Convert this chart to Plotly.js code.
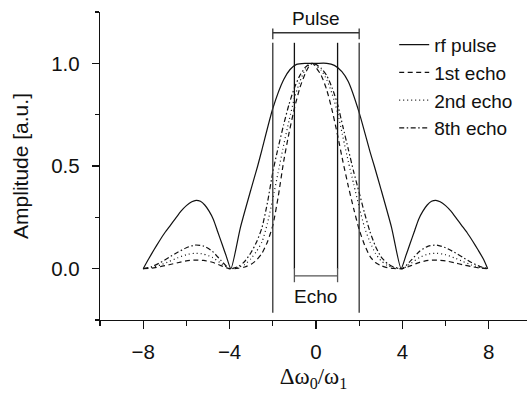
<!DOCTYPE html>
<html>
<head>
<meta charset="utf-8">
<script src="https://cdn.plot.ly/plotly-3.0.1.min.js"></script>
<style>html,body{margin:0;padding:0;background:#fff;}#chart{width:527px;height:397px;}</style>
</head>
<body>
<div id="chart"></div>
<script>
// ---- data ----
const rfX = [-8, -7.75, -7.5, -7.25, -7, -6.75, -6.5, -6.25, -6, -5.75, -5.55, -5.35, -5.15, -4.95, -4.75, -4.55, -4.35, -4.15, -3.94,
             -3.5, -3, -2.7, -2.5, -2, -1.5, -1.2, -0.9, -0.5, 0, 0.5, 0.85, 1.2, 1.5, 2, 2.5, 2.7, 3, 3.5,
             3.94, 4.15, 4.35, 4.55, 4.75, 4.95, 5.15, 5.35, 5.55, 5.75, 6, 6.25, 6.5, 6.75, 7, 7.25, 7.5, 7.75, 7.95];
const rfY = [0, 0.047, 0.092, 0.135, 0.175, 0.21, 0.245, 0.28, 0.307, 0.326, 0.333, 0.328, 0.31, 0.28, 0.24, 0.18, 0.12, 0.06, 0,
             0.2, 0.39, 0.5, 0.58, 0.78, 0.92, 0.97, 0.995, 1.0, 1.0, 1.0, 0.99, 0.96, 0.91, 0.76, 0.57, 0.5, 0.39, 0.2,
             0, 0.06, 0.12, 0.18, 0.24, 0.28, 0.31, 0.328, 0.333, 0.326, 0.307, 0.28, 0.245, 0.21, 0.175, 0.135, 0.092, 0.047, 0];

const echoX = [-8, -7.6, -7.2, -6.8, -6.4, -6, -5.6, -5.2, -4.8, -4.4, -4, -3.6, -3.3, -3, -2.75, -2.5, -2.25, -2, -1.75, -1.5, -1.25, -1, -0.75, -0.5, -0.3, -0.15, 0,
               0.25, 0.5, 0.75, 1, 1.25, 1.5, 1.75, 2, 2.25, 2.5, 2.75, 3, 3.3, 3.6, 4, 4.4, 4.8, 5.2, 5.6, 6, 6.4, 6.8, 7.2, 7.6, 8];
const echo1Y = [0, 0.003, 0.01, 0.019, 0.029, 0.038, 0.042, 0.04, 0.031, 0.015, 0, 0.002, 0.008, 0.022, 0.042, 0.075, 0.13, 0.21, 0.35, 0.52, 0.66, 0.78, 0.88, 0.95, 0.99, 1.0, 0.98,
                0.94, 0.87, 0.77, 0.65, 0.52, 0.4, 0.29, 0.19, 0.115, 0.06, 0.03, 0.015, 0.005, 0.001, 0, 0.015, 0.031, 0.04, 0.042, 0.038, 0.029, 0.019, 0.01, 0.003, 0];
const echo2Y = [0, 0.006, 0.018, 0.035, 0.053, 0.068, 0.075, 0.071, 0.055, 0.026, 0, 0.006, 0.02, 0.05, 0.085, 0.13, 0.22, 0.34, 0.47, 0.6, 0.72, 0.83, 0.91, 0.97, 0.995, 1.0, 0.99,
                0.965, 0.92, 0.85, 0.76, 0.64, 0.52, 0.41, 0.3, 0.2, 0.13, 0.075, 0.04, 0.016, 0.005, 0, 0.026, 0.055, 0.071, 0.075, 0.068, 0.053, 0.035, 0.018, 0.006, 0];
const echo8Y = [0, 0.01, 0.03, 0.055, 0.08, 0.102, 0.115, 0.11, 0.085, 0.04, 0, 0.01, 0.035, 0.08, 0.13, 0.2, 0.32, 0.47, 0.59, 0.7, 0.8, 0.88, 0.94, 0.98, 0.997, 1.0, 0.995,
                0.975, 0.94, 0.88, 0.8, 0.69, 0.58, 0.47, 0.37, 0.27, 0.18, 0.11, 0.06, 0.025, 0.008, 0, 0.04, 0.085, 0.11, 0.115, 0.102, 0.08, 0.055, 0.03, 0.01, 0];

const seriesNames = ['rf pulse', '1st echo', '2nd echo', '8th echo'];
const xTickVals = [-8, -4, 0, 4, 8];
const xMinorVals = [-10, -6, -2, 2, 6];
const yTickVals = [0, 0.5, 1.0];
const yTickText = ['0.0', '0.5', '1.0'];
const yMinorVals = [-0.25, 0.25, 0.75, 1.25];
const pulseHalfWidth = 2;
const echoHalfWidth = 1;
const labels = ['Pulse', 'Echo'];

// ---- styles ----
const lw = 1.2;
const dashes = ['solid', '5px,3.5px', '1px,3px', '5px,2.5px,1.5px,2.5px'];
const ys = [rfY, echo1Y, echo2Y, echo8Y];
const xs = [rfX, echoX, echoX, echoX];

const traces = seriesNames.map((n, i) => ({
  x: xs[i], y: ys[i], name: n, type: 'scatter', mode: 'lines',
  line: {color: '#111', width: lw, dash: dashes[i], shape: 'spline', smoothing: 0.6}
}));

const sans = 'Liberation Sans, Arial, sans-serif';
const markColor = '#333';
function seg(x0, y0, x1, y1, c) {
  return {type: 'line', xref: 'x', yref: 'y', x0: x0, y0: y0, x1: x1, y1: y1,
          line: {color: c || markColor, width: 1.3}};
}
const P = pulseHalfWidth, E = echoHalfWidth;
const shapes = [
  seg(-P, -0.215, -P, 1.10), seg(P, -0.215, P, 1.10),
  seg(-E, 0.0, -E, 1.10, '#111'), seg(E, 0.0, E, 1.10, '#111'),
  seg(-P, 1.149, P, 1.149), seg(-P, 1.117, -P, 1.17), seg(P, 1.117, P, 1.17),
  seg(-E, -0.035, E, -0.035, '#555'), seg(-E, -0.066, -E, 0.003, '#555'), seg(E, -0.066, E, 0.003, '#555')
];

const layout = {
  width: 527, height: 397,
  margin: {l: 100, r: 0, t: 12, b: 77},
  paper_bgcolor: '#fff', plot_bgcolor: '#fff',
  showlegend: true,
  legend: {x: 0.689, xanchor: 'left', y: 0.955, yanchor: 'top', bgcolor: 'rgba(0,0,0,0)',
           font: {family: sans, size: 19, color: '#111'}},
  xaxis: {
    range: [-10, 9.77], tickvals: xTickVals, ticks: 'outside', ticklen: 8, tickwidth: 1.2, tickcolor: '#111',
    showline: true, linecolor: '#111', linewidth: 1.2, zeroline: false, showgrid: false,
    minor: {tickvals: xMinorVals, ticks: 'outside', ticklen: 5, tickwidth: 1.2, tickcolor: '#111', showgrid: false},
    tickfont: {family: sans, size: 20.5, color: '#111'}, ticklabelstandoff: 5,
    title: {text: 'Δω<sub>0</sub>/ω<sub>1</sub>', font: {family: 'Liberation Serif, Times New Roman, serif', size: 23, color: '#111'}, standoff: 6}
  },
  yaxis: {
    range: [-0.25, 1.25], tickvals: yTickVals, ticktext: yTickText, ticks: 'outside', ticklen: 7, tickwidth: 1.2, tickcolor: '#111',
    showline: true, linecolor: '#111', linewidth: 1.2, zeroline: false, showgrid: false,
    minor: {tickvals: yMinorVals, ticks: 'outside', ticklen: 4, tickwidth: 1.2, tickcolor: '#111', showgrid: false},
    tickfont: {family: sans, size: 20.5, color: '#111'}, ticklabelstandoff: 8,
    title: {text: 'Amplitude [a.u.]', font: {family: sans, size: 21, color: '#111'}, standoff: 16}
  },
  shapes: shapes,
  annotations: [
    {x: 0, y: 1.217, xref: 'x', yref: 'y', text: labels[0], showarrow: false, font: {family: sans, size: 19, color: '#111'}},
    {x: 0, y: -0.137, xref: 'x', yref: 'y', text: labels[1], showarrow: false, font: {family: sans, size: 19, color: '#111'}}
  ]
};

Plotly.newPlot('chart', traces, layout, {displayModeBar: false, staticPlot: true});
</script>
</body>
</html>
